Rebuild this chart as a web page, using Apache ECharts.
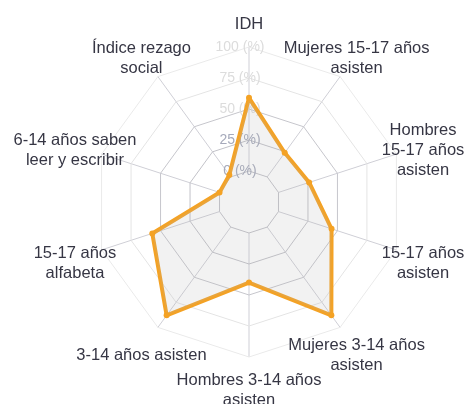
<!DOCTYPE html>
<html>
<head>
<meta charset="utf-8">
<script src="https://cdn.jsdelivr.net/npm/echarts@6/dist/echarts.min.js"></script>
<style>
  html, body { margin: 0; padding: 0; background: #fff; }
  #chart { width: 470px; height: 404px; }
</style>
</head>
<body>
<div id="chart"></div>
<script>
// clockwise from the top
const indicators = [
  'IDH',
  'Mujeres 15-17 años\nasisten',
  'Hombres\n15-17 años\nasisten',
  '15-17 años\nasisten',
  'Mujeres 3-14 años\nasisten',
  'Hombres 3-14 años\nasisten',
  '3-14 años asisten',
  '15-17 años\nalfabeta',
  '6-14 años saben\nleer y escribir',
  'Índice rezago\nsocial'
]
const values = [59, 24, 26, 45, 88, 40, 88, 57, 0, 2]
const axisMin = -25
const axisMax = 100

// echarts lays indicators out counter-clockwise, the picture goes clockwise
const order = [0, 9, 8, 7, 6, 5, 4, 3, 2, 1]

const center = [249, 202]
const radius = 155
const orange = '#f4a224'

const chart = echarts.init(document.getElementById('chart'), null, { renderer: 'canvas' })

chart.setOption({
  animation: false,
  textStyle: { fontFamily: 'Liberation Sans, Arial, sans-serif' },
  // spokes only run from the inner ring outward
  polar: { center: center, radius: [radius / 5, radius] },
  angleAxis: {
    type: 'value',
    min: 0,
    max: indicators.length,
    interval: 1,
    startAngle: 90,
    axisLine: { show: false },
    axisTick: { show: false },
    axisLabel: { show: false },
    splitLine: { lineStyle: { color: '#cfcfd6', width: 1 } }
  },
  radiusAxis: {
    type: 'value',
    axisLine: { show: false },
    axisTick: { show: false },
    axisLabel: { show: false },
    splitLine: { show: false }
  },
  radar: {
    center: center,
    radius: radius,
    shape: 'polygon',
    splitNumber: 5,
    nameGap: 28,
    axisName: {
      color: '#363644',
      fontSize: 16.5,
      lineHeight: 20,
      align: 'center',
      verticalAlign: 'middle',
      // a thin empty first line pushes every name down a little
      formatter: (name) => '{gap| }\n' + name,
      rich: { gap: { fontSize: 4, lineHeight: 10 } }
    },
    axisLine: { show: false },
    axisTick: { show: false },
    axisLabel: { show: false },
    splitArea: { show: false },
    splitLine: {
      lineStyle: {
        color: ['#c2c2c8', '#c2c2c8', '#c2c2c8', '#c6c6cc', '#e4e4e4', '#eaeaea'],
        width: 1
      }
    },
    indicator: order.map((i) => ({
      name: indicators[i],
      min: axisMin,
      max: axisMax,
      axisLabel: i === 0 ? {
        show: true,
        align: 'center',
        margin: 9,
        fontSize: 14,
        color: (v) => (Number(v) >= 50 ? '#dcdcdc' : '#a6aabb'),
        formatter: (v) => (v < 0 ? '' : v + ' (%)')
      } : { show: false }
    }))
  },
  series: [
    {
      type: 'radar',
      symbol: 'circle',
      symbolSize: 6,
      itemStyle: { color: orange },
      lineStyle: { color: orange, width: 4 },
      areaStyle: { color: 'rgba(180, 180, 180, 0.24)' },
      data: [{ value: order.map((i) => values[i]) }]
    }
  ]
})
</script>
</body>
</html>
